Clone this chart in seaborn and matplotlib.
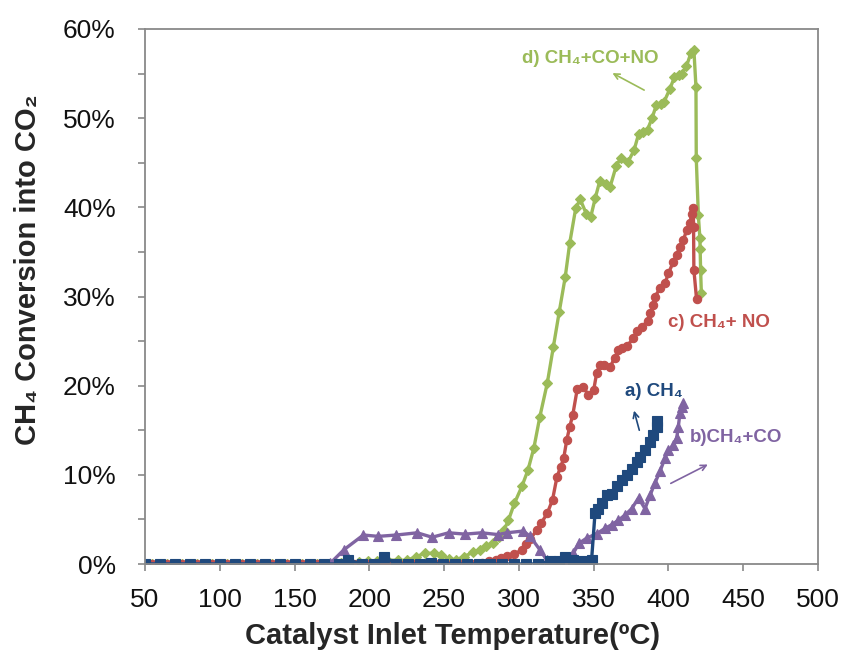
import numpy as np
import pandas as pd
import matplotlib
matplotlib.use("Agg")
import matplotlib.pyplot as plt
from matplotlib.ticker import MultipleLocator, PercentFormatter
import seaborn as sns

# ---- data: catalyst inlet temperature (°C) vs CH4 conversion into CO2 (%) ----
# a) CH4
t_a = [50, 60, 70, 80, 90, 100, 110, 120, 130, 140, 150, 160, 170, 180,
       186, 195, 203, 210, 218, 226, 234, 241, 249, 257, 265, 273, 281, 289,
       297, 305, 313, 321, 327, 331, 336, 342, 348.6, 350.9, 353, 355.4,
       358.7, 362, 365.4, 368.7, 372, 375.4, 378.8, 381, 384.3, 387.7, 390,
       392.5, 392.6]
y_a = [0, 0, 0, 0, 0, 0, 0, 0, 0, 0, 0, 0, 0, 0,
       0.45, 0, 0, 0.8, 0, 0, 0, 0.15, 0, 0, 0, 0, 0, 0,
       0, 0, 0, 0.3, 0.3, 0.75, 0.4, 0.3, 0.45, 5.7, 6.2, 6.8,
       7.7, 7.9, 8.7, 9.4, 10.0, 10.6, 11.4, 12.0, 12.8, 13.7, 14.5,
       15.4, 16.0]

# b) CH4+CO
t_b = [50, 60, 70, 80, 90, 100, 110, 120, 130, 140, 150, 160, 170,
       174, 183, 196, 206, 218, 232, 242, 253, 264, 275, 286, 292, 303,
       307.5, 314, 318.6, 325, 331, 336.4, 340, 345.3, 352, 357.6, 362,
       366.5, 371, 375.4, 380, 384.3, 387.7, 391, 394.4, 397.7, 400,
       403.3, 405.5, 406.6, 407.7, 408.8, 410]
y_b = [0, 0, 0, 0, 0, 0, 0, 0, 0, 0, 0, 0, 0,
       0.1, 1.6, 3.25, 3.1, 3.25, 3.5, 3.0, 3.5, 3.35, 3.5, 3.3, 3.5, 3.7,
       3.1, 1.6, 0.45, 0.0, 0.45, 1.2, 2.3, 2.9, 3.4, 4.0, 4.4,
       4.9, 5.5, 6.2, 7.4, 6.2, 7.7, 9.1, 10.4, 11.9, 12.8,
       13.3, 14.1, 15.4, 16.9, 17.6, 18.1]

# c) CH4+NO
t_c = list(range(50, 275, 5)) + [
       275, 280, 285, 288, 292, 297, 302, 305, 307.5, 312, 315, 319, 322.5,
       325.5, 328, 330, 332, 334, 336, 339, 343, 346.5, 350, 352, 354, 357,
       361, 364, 366.5, 369, 372, 376.5, 379, 382, 386, 388, 390, 391,
       394.4, 397.7, 400, 403.3, 405.5, 407.7, 410, 412.2, 414.4, 415.5,
       416.6, 416.8, 417, 418.8]
y_c = [0] * 45 + [
       0.1, 0.3, 0.45, 0.7, 0.9, 1.1, 1.6, 2.2, 2.8, 3.8, 4.6, 5.7, 7.2,
       9.8, 10.9, 11.9, 13.9, 15.4, 16.7, 19.6, 19.8, 19.0, 19.5, 21.4, 22.3, 22.3,
       22.1, 23.1, 24.0, 24.2, 24.4, 25.3, 26.1, 26.6, 27.2, 28.1, 29.0, 30.0,
       30.9, 31.5, 32.6, 33.9, 34.7, 35.6, 36.3, 37.5, 38.2, 39.3,
       39.9, 37.8, 33.0, 29.7]

# d) CH4+CO+NO
t_d = list(range(50, 180, 5)) + [
       181, 187, 193, 199, 205, 212, 219, 225, 231, 237, 243, 248, 253, 258,
       263, 269, 274, 278, 283, 287, 290, 293, 297, 302, 306, 310, 314, 319,
       323, 327, 331, 334, 338, 341, 345, 348, 351, 354, 358, 361, 365, 368,
       373, 377, 380, 383, 386, 389, 392, 395, 397, 401, 404, 407, 409, 412,
       415, 417, 418.4, 418.6, 420, 421, 421.2, 421.5, 422]
y_d = [0] * 26 + [
       0.1, 0.2, 0.2, 0.3, 0.3, 0.45, 0.4, 0.4, 0.8, 1.2, 1.2, 1.0, 0.6, 0.45,
       0.8, 1.3, 1.6, 2.0, 2.4, 3.0, 3.8, 4.9, 6.8, 8.7, 10.5, 13.0, 16.5, 20.3,
       24.3, 28.3, 32.2, 36.0, 39.9, 40.9, 39.3, 38.9, 41.0, 42.9, 42.6, 42.3, 44.6, 45.5,
       45.1, 46.4, 48.2, 48.4, 48.7, 50.0, 51.5, 51.6, 51.8, 53.3, 54.6, 54.8, 55.0, 55.8,
       57.3, 57.7, 53.5, 45.5, 39.1, 36.6, 35.3, 33.0, 30.4]

x_ticks = [50, 100, 150, 200, 250, 300, 350, 400, 450, 500]
y_ticks = [0, 10, 20, 30, 40, 50, 60]

col_a = "#1F497D"
col_b = "#8064A2"
col_c = "#C0504D"
col_d = "#9BBB59"

sns.set_style("white")
plt.rcParams["font.family"] = ["Liberation Sans", "DejaVu Sans"]

fig = plt.figure(figsize=(8.41, 6.53), dpi=100)
ax = fig.add_axes([145 / 841, 1 - 564 / 653, (818 - 145) / 841, (564 - 29) / 653])

series = [
    (t_d, y_d, col_d, "D", 5),
    (t_c, y_c, col_c, "o", 6),
    (t_b, y_b, col_b, "^", 7),
    (t_a, y_a, col_a, "s", 7),
]
for t, y, c, m, ms in series:
    df = pd.DataFrame({"T": t, "conv": y})
    sns.lineplot(data=df, x="T", y="conv", ax=ax, sort=False, estimator=None,
                 color=c, lw=2.4, marker=m, markersize=ms,
                 markeredgecolor=c, markerfacecolor=c, markeredgewidth=0.8)

ax.set_xlim(50, 500)
ax.set_ylim(0, 60)
ax.set_xticks(x_ticks)
ax.set_yticks(y_ticks)
ax.yaxis.set_minor_locator(MultipleLocator(5))
ax.yaxis.set_major_formatter(PercentFormatter(xmax=100, decimals=0))

spine_col = "#898989"
for s in ax.spines.values():
    s.set_color(spine_col)
    s.set_linewidth(1.3)
ax.tick_params(axis="both", which="both", direction="out", color=spine_col,
               width=1.2, length=5, labelsize=19, labelcolor="#111111")
ax.tick_params(axis="y", which="major", pad=16)
ax.tick_params(axis="x", which="major", pad=12)
ax.tick_params(axis="y", which="minor", left=True, length=5)
ax.tick_params(axis="x", bottom=True)
ax.tick_params(axis="y", left=True)

ax.set_xlabel("Catalyst Inlet Temperature(ºC)", fontsize=21,
              fontweight="bold", va="center")
ax.set_ylabel("CH₄ Conversion into CO₂", fontsize=21,
              fontweight="bold", va="center")
ax.xaxis.set_label_coords(0.457, -0.1346)
ax.yaxis.set_label_coords(-0.174, 0.55)

# curve labels with pointer arrows
ann_font = dict(fontsize=13.5, fontweight="bold", va="center", ha="left")
ax.text(302, 56.7, "d) CH₄+CO+NO", color=col_d, **ann_font)
ax.annotate("", xy=(360.9, 55.2), xytext=(385.4, 53.0),
            arrowprops=dict(arrowstyle="->", color=col_d, lw=1.2))
ax.text(399.7, 27.1, "c) CH₄+ NO", color=col_c, **ann_font)
ax.text(371, 19.3, "a) CH₄", color=col_a, **ann_font)
ax.annotate("", xy=(376.5, 17.5), xytext=(381, 14.7),
            arrowprops=dict(arrowstyle="->", color=col_a, lw=1.2))
ax.text(414.4, 14.2, "b)CH₄+CO", color=col_b, **ann_font)
ax.annotate("", xy=(428, 11.3), xytext=(399.9, 8.9),
            arrowprops=dict(arrowstyle="->", color=col_b, lw=1.2))

fig.savefig("out.png", dpi=100)
